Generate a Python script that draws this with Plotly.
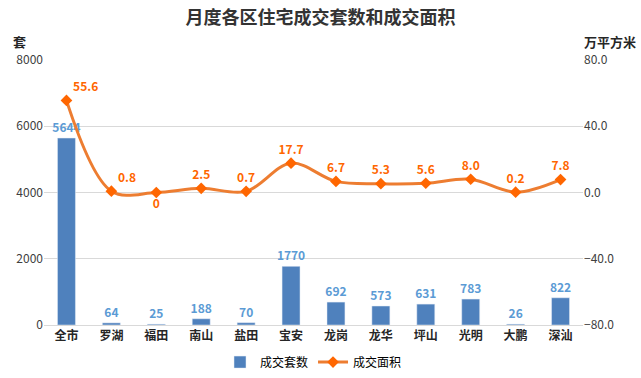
import plotly.graph_objects as go

categories = ["全市", "罗湖", "福田", "南山", "盐田", "宝安", "龙岗", "龙华", "坪山", "光明", "大鹏", "深汕"]
units = [5644, 64, 25, 188, 70, 1770, 692, 573, 631, 783, 26, 822]
area = [55.6, 0.8, 0, 2.5, 0.7, 17.7, 6.7, 5.3, 5.6, 8.0, 0.2, 7.8]
area_labels = ["55.6", "0.8", "0", "2.5", "0.7", "17.7", "6.7", "5.3", "5.6", "8.0", "0.2", "7.8"]
left_ticks = [0, 2000, 4000, 6000, 8000]
right_ticks = [-80, -40, 0, 40, 80]

FONT = "Noto Sans CJK SC"
label_pos = ["top right", "top right", "bottom center"] + ["top center"] * 9

fig = go.Figure()
fig.add_trace(go.Bar(
    x=categories, y=units, name="成交套数",
    marker=dict(color="#4F81BD"), width=0.4,
    text=[str(v) for v in units], textposition="outside", constraintext="none",
    textfont=dict(family=FONT, size=12, color="#5B9BD5", weight="bold"),
    cliponaxis=False, yaxis="y",
))
fig.add_trace(go.Scatter(
    x=categories, y=area, name="成交面积", yaxis="y2",
    mode="lines+markers+text",
    line=dict(color="#ED7D31", width=3, shape="spline", smoothing=1.0),
    marker=dict(symbol="diamond", size=9, color="#FF6600"),
    text=area_labels, textposition=label_pos,
    textfont=dict(family=FONT, size=12, color="#FF6600", weight="bold"),
    cliponaxis=False,
))

fig.update_layout(
    width=641, height=378,
    margin=dict(l=44, r=58, t=60, b=53, autoexpand=False),
    paper_bgcolor="white", plot_bgcolor="white",
    font=dict(family=FONT, size=12, color="#404040"),
    title=dict(text="<b>月度各区住宅成交套数和成交面积</b>", x=0.5, xanchor="center",
               y=0.952, yanchor="middle", font=dict(family=FONT, size=18, color="#333333")),
    xaxis=dict(range=[-0.5, len(categories) - 0.5], showgrid=False, showline=True,
               linecolor="#D9D9D9", automargin=False,
               tickfont=dict(family=FONT, size=12, color="#262626", weight="bold"),
               ticks=""),
    yaxis=dict(range=[0, 8000], tickvals=left_ticks, showgrid=True, gridcolor="#D9D9D9",
               zeroline=False, automargin=False, tickfont=dict(size=12, color="#404040"), ticks=""),
    yaxis2=dict(range=[-80, 80], tickvals=right_ticks, tickformat=".1f", overlaying="y",
                side="right", showgrid=False, zeroline=False, automargin=False,
                tickfont=dict(size=12, color="#404040"), ticks=""),
    legend=dict(orientation="h", x=0.5, xanchor="center", y=-0.14, yanchor="middle",
                font=dict(size=12, color="#000000")),
    annotations=[
        dict(text="<b>套</b>", xref="paper", yref="paper", x=-0.045, y=1.068, showarrow=False,
             xanchor="center", yanchor="middle", font=dict(size=13, color="#262626")),
        dict(text="<b>万平方米</b>", xref="paper", yref="paper", x=1.05, y=1.068, showarrow=False,
             xanchor="center", yanchor="middle", font=dict(size=13, color="#262626")),
    ],
)

fig.write_html("out.html", config={"displayModeBar": False},
               post_script="document.body.style.margin='0';")
